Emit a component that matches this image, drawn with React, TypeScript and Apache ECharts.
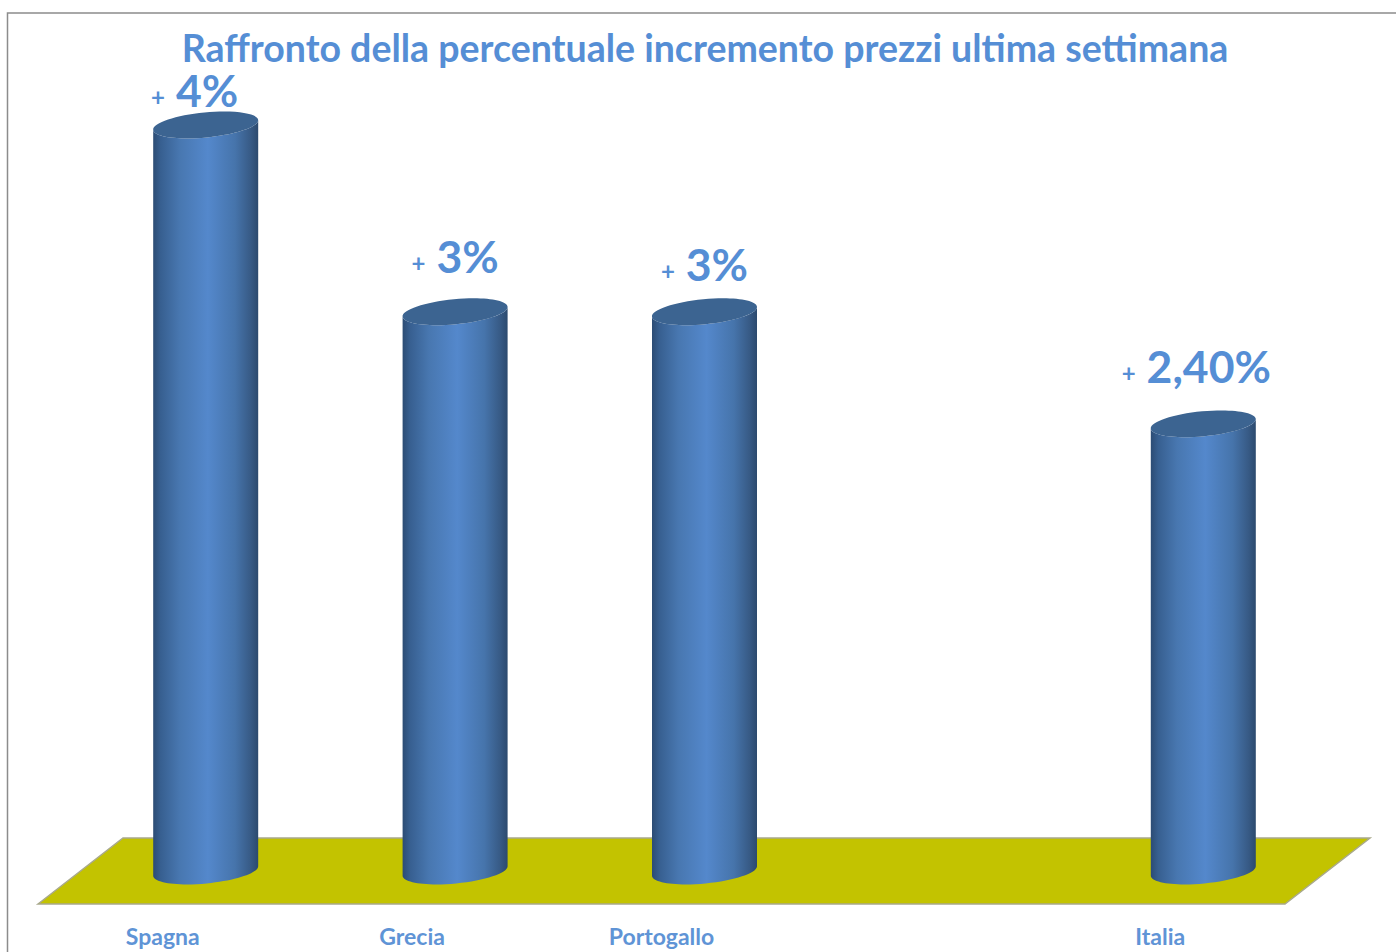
import React, { useEffect, useRef } from "react";
import * as echarts from "echarts";

const titleText = "Raffronto della percentuale incremento prezzi ultima settimana";
const categories = ["Spagna", "Grecia", "Portogallo", "", "Italia"];
const values: (number | null)[] = [4, 3, 3, null, 2.4];
const valueLabels = ["4%", "3%", "3%", "", "2,40%"];
// Hand placement of the value labels relative to the top of each column
const labelShiftX = [-11, 0, 0, 0, -7];
const labelShiftY = [-36, -56, -48, 0, -58];

const BLUE_TEXT = "#558ed5";
const DEPTH_X = 85;
const DEPTH_Y = 66;
const HALF_W = 52.5;
const TILT = 5;
const MINOR = 12.5;

const MAJOR = Math.sqrt(HALF_W * HALF_W + TILT * TILT);
const PHI = -Math.atan2(TILT, HALF_W);

function ellipsePoint(cx: number, cy: number, t: number) {
  return [
    cx + MAJOR * Math.cos(t) * Math.cos(PHI) - MINOR * Math.sin(t) * Math.sin(PHI),
    cy + MAJOR * Math.cos(t) * Math.sin(PHI) + MINOR * Math.sin(t) * Math.cos(PHI),
  ];
}
function ellipseTangent(t: number) {
  return [
    -MAJOR * Math.sin(t) * Math.cos(PHI) - MINOR * Math.cos(t) * Math.sin(PHI),
    -MAJOR * Math.sin(t) * Math.sin(PHI) + MINOR * Math.cos(t) * Math.cos(PHI),
  ];
}
// Cubic segments along the ellipse from angle t0 to t1, in quarter-turn steps
function ellipseArc(cx: number, cy: number, t0: number, t1: number) {
  const steps = Math.round(Math.abs(t1 - t0) / (Math.PI / 2));
  const dt = (t1 - t0) / steps;
  const k = (4 / 3) * Math.tan(dt / 4);
  let d = "";
  for (let s = 0; s < steps; s++) {
    const a = t0 + s * dt;
    const b = a + dt;
    const p0 = ellipsePoint(cx, cy, a);
    const p1 = ellipsePoint(cx, cy, b);
    const d0 = ellipseTangent(a);
    const d1 = ellipseTangent(b);
    d += ` C ${p0[0] + k * d0[0]} ${p0[1] + k * d0[1]} ${p1[0] - k * d1[0]} ${p1[1] - k * d1[1]} ${p1[0]} ${p1[1]}`;
  }
  return d;
}

function App() {
  const ref = useRef<HTMLDivElement>(null);
  useEffect(() => {
    const chart = echarts.init(ref.current!, null, { renderer: "svg" });

    const data = values
      .map((v, i) => [i, v])
      .filter((d) => d[1] !== null);

    chart.setOption({
      animation: false,
      backgroundColor: "#ffffff",
      title: {
        text: titleText,
        left: 700,
        top: 22,
        textAlign: "center",
        textStyle: {
          fontFamily: "Lato",
          fontWeight: "bold",
          fontSize: 37.5,
          lineHeight: 40,
          color: BLUE_TEXT,
        },
      },
      grid: { left: 38, right: 111, top: 157, bottom: 48 },
      xAxis: {
        type: "category",
        data: categories,
        axisLine: { show: false },
        axisTick: { show: false },
        axisLabel: {
          interval: 0,
          margin: 20,
          fontFamily: "Lato",
          fontWeight: "bold",
          fontSize: 23,
          color: "#5f94d6",
        },
      },
      yAxis: { type: "value", min: 0, max: 4, show: false, splitLine: { show: false } },
      graphic: [
        {
          type: "polyline",
          shape: { points: [[7.5, 952], [7.5, 13], [1396, 13]] },
          style: { stroke: "#8c8c8c", lineWidth: 1.5, fill: "none" },
          silent: true,
        },
      ],
      series: [
        {
          type: "custom",
          silent: true,
          data: [[0, 0]],
          encode: { x: 0, y: 1 },
          renderItem: (params: any) => {
            const c = params.coordSys;
            const b = c.y + c.height;
            return {
              type: "polygon",
              shape: {
                points: [
                  [c.x, b],
                  [c.x + DEPTH_X, b - DEPTH_Y],
                  [c.x + c.width + DEPTH_X, b - DEPTH_Y],
                  [c.x + c.width, b],
                ],
              },
              style: { fill: "#c3c300", stroke: "#a9a98c", lineWidth: 1.5 },
            };
          },
        },
        {
          type: "custom",
          silent: true,
          data,
          encode: { x: 0, y: 1 },
          renderItem: (_params: any, api: any) => {
            const i = api.value(0);
            const top = api.coord([i, api.value(1)]);
            const base = api.coord([i, 0]);
            const cx = base[0] + 43;
            const yBase = base[1] - DEPTH_Y / 2;
            const yTop = top[1] - DEPTH_Y / 2 + 1;
            const tl = ellipsePoint(cx, yTop, Math.PI);
            const tr = ellipsePoint(cx, yTop, 0);
            const bl = ellipsePoint(cx, yBase, Math.PI);
            const body =
              `M ${tl[0]} ${tl[1]} L ${bl[0]} ${bl[1]}` +
              ellipseArc(cx, yBase, Math.PI, 0) +
              ` L ${tr[0]} ${tr[1]}` +
              ellipseArc(cx, yTop, 0, Math.PI) +
              " Z";
            const cap =
              `M ${tl[0]} ${tl[1]}` +
              ellipseArc(cx, yTop, Math.PI, 3 * Math.PI) +
              " Z";
            return {
              type: "group",
              children: [
                {
                  type: "path",
                  shape: { pathData: body },
                  style: {
                    fill: new echarts.graphic.LinearGradient(0, 0, 1, 0, [
                      { offset: 0, color: "#2c4c74" },
                      { offset: 0.07, color: "#375f90" },
                      { offset: 0.25, color: "#4877b0" },
                      { offset: 0.52, color: "#5488cc" },
                      { offset: 0.78, color: "#4674ab" },
                      { offset: 0.93, color: "#375a85" },
                      { offset: 1, color: "#2c4a6e" },
                    ]),
                  },
                },
                {
                  type: "path",
                  shape: { pathData: cap },
                  style: { fill: "#3c6491" },
                },
                {
                  type: "text",
                  style: {
                    x: cx + labelShiftX[i],
                    y: yTop + labelShiftY[i],
                    text: `{p|+}{n|${valueLabels[i]}}`,
                    align: "center",
                    verticalAlign: "middle",
                    fill: BLUE_TEXT,
                    rich: {
                      p: {
                        fontFamily: "Lato",
                        fontWeight: "bold",
                        fontSize: 24,
                        padding: [14, 11, 0, 0],
                        fill: BLUE_TEXT,
                        color: BLUE_TEXT,
                      },
                      n: {
                        fontFamily: "Lato",
                        fontWeight: "bold",
                        fontSize: 44.5,
                        lineHeight: 36,
                        fill: BLUE_TEXT,
                        color: BLUE_TEXT,
                      },
                    },
                  },
                },
              ],
            };
          },
        },
      ],
    });
    return () => chart.dispose();
  }, []);
  return (
    <div
      ref={ref}
      style={{ position: "absolute", left: 0, top: 0, width: 1396, height: 952 }}
    />
  );
}

export default App;
